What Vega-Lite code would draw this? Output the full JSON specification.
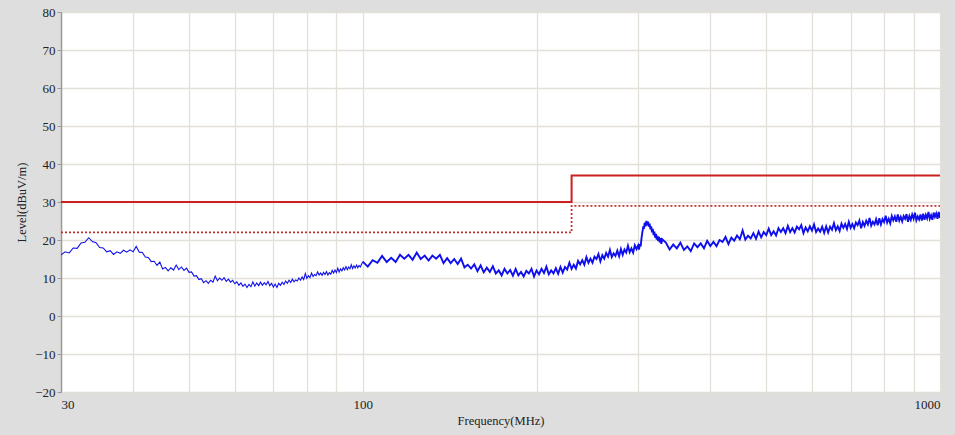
{
  "$schema": "https://vega.github.io/schema/vega-lite/v6.json",
  "autosize": {"type": "none"},
  "width": 879,
  "height": 380,
  "padding": {"left": 61, "top": 12, "right": 15, "bottom": 43},
  "background": "#dedede",
  "config": {
    "view": {"fill": "#ffffff", "stroke": "#c4c4c4", "strokeWidth": 1},
    "axis": {
      "labelFont": "Liberation Serif", "titleFont": "Liberation Serif",
      "labelFontSize": 13, "titleFontSize": 12.5, "titleFontWeight": "normal",
      "labelColor": "#222222", "titleColor": "#222222",
      "gridColor": "#e2e0d8", "gridWidth": 1.3,
      "domainColor": "#9a9a9a", "tickColor": "#9a9a9a"
    }
  },
  "datasets": {
    "limits": [
      {"f": 30, "v": 30, "i": 0, "kind": "limit"},
      {"f": 230, "v": 30, "i": 1, "kind": "limit"},
      {"f": 230, "v": 37, "i": 2, "kind": "limit"},
      {"f": 1000, "v": 37, "i": 3, "kind": "limit"},
      {"f": 30, "v": 22, "i": 0, "kind": "margin"},
      {"f": 230, "v": 22, "i": 1, "kind": "margin"},
      {"f": 230, "v": 29, "i": 2, "kind": "margin"},
      {"f": 1000, "v": 29, "i": 3, "kind": "margin"}
    ],
    "trace": [
      {"f":30,"v":16.1},{"f":30.5,"v":16.9},{"f":31,"v":16.6},{"f":31.5,"v":17.9},{"f":32,"v":17.8},{"f":32.5,"v":19.2},{"f":33,"v":19.4},{"f":33.5,"v":20.6},{"f":34,"v":19.6},{"f":34.5,"v":19.3},
      {"f":35,"v":18.0},{"f":35.5,"v":17.9},{"f":36,"v":16.9},{"f":36.5,"v":17.2},{"f":37,"v":16.2},{"f":37.5,"v":16.9},{"f":38,"v":16.5},{"f":38.5,"v":17.3},{"f":39,"v":16.8},{"f":39.5,"v":17.4},
      {"f":40,"v":16.9},{"f":40.5,"v":18.3},{"f":41,"v":16.8},{"f":41.5,"v":16.7},{"f":42,"v":15.5},{"f":42.5,"v":15.4},{"f":43,"v":14.3},{"f":43.5,"v":14.4},{"f":44,"v":13.3},{"f":44.5,"v":14.2},
      {"f":45,"v":12.4},{"f":45.5,"v":12.8},{"f":46,"v":11.9},{"f":46.5,"v":12.7},{"f":47,"v":12.1},{"f":47.5,"v":13.4},{"f":48,"v":12.2},{"f":48.5,"v":12.9},{"f":49,"v":12.0},{"f":49.5,"v":12.6},
      {"f":50,"v":11.5},{"f":50.5,"v":11.6},{"f":51,"v":10.5},{"f":51.5,"v":10.6},{"f":52,"v":9.6},{"f":52.5,"v":9.8},{"f":53,"v":8.8},{"f":53.5,"v":9.3},{"f":54,"v":8.6},{"f":54.5,"v":9.4},
      {"f":55,"v":8.9},{"f":55.5,"v":10.5},{"f":56,"v":9.3},{"f":56.5,"v":10.0},{"f":57,"v":9.4},{"f":57.5,"v":10.1},{"f":58,"v":9.1},{"f":58.5,"v":9.7},{"f":59,"v":8.9},{"f":59.5,"v":9.4},
      {"f":60,"v":8.5},{"f":60.5,"v":9.0},{"f":61,"v":8.1},{"f":61.5,"v":8.7},{"f":62,"v":7.8},{"f":62.5,"v":8.4},{"f":63,"v":7.5},{"f":63.5,"v":8.3},{"f":64,"v":7.7},{"f":64.5,"v":9.0},
      {"f":65,"v":7.9},{"f":65.5,"v":8.7},{"f":66,"v":8.0},{"f":66.5,"v":8.9},{"f":67,"v":8.1},{"f":67.5,"v":8.8},{"f":68,"v":8.2},{"f":68.5,"v":9.1},{"f":69,"v":8.0},{"f":69.5,"v":8.6},
      {"f":70,"v":7.6},{"f":70.5,"v":8.4},{"f":71,"v":7.5},{"f":71.5,"v":8.6},{"f":72,"v":8.1},{"f":72.5,"v":8.9},{"f":73,"v":8.3},{"f":73.5,"v":9.2},{"f":74,"v":8.6},{"f":74.5,"v":9.4},
      {"f":75,"v":8.8},{"f":75.5,"v":9.7},{"f":76,"v":9.0},{"f":76.5,"v":9.5},{"f":77,"v":9.2},{"f":77.5,"v":10.0},{"f":78,"v":9.4},{"f":78.5,"v":10.3},{"f":79,"v":9.6},{"f":79.5,"v":11.2},
      {"f":80,"v":9.9},{"f":80.5,"v":10.6},{"f":81,"v":10.1},{"f":81.5,"v":11.3},{"f":82,"v":10.4},{"f":82.5,"v":10.9},{"f":83,"v":10.6},{"f":83.5,"v":11.6},{"f":84,"v":10.8},{"f":84.5,"v":11.3},
      {"f":85,"v":10.7},{"f":85.5,"v":11.5},{"f":86,"v":10.9},{"f":86.5,"v":11.7},{"f":87,"v":10.8},{"f":87.5,"v":11.4},{"f":88,"v":11.0},{"f":88.5,"v":12.0},{"f":89,"v":11.3},{"f":89.5,"v":12.1},
      {"f":90,"v":11.4},{"f":90.5,"v":12.6},{"f":91,"v":11.6},{"f":91.5,"v":12.4},{"f":92,"v":11.9},{"f":92.5,"v":12.7},{"f":93,"v":12.1},{"f":93.5,"v":13.0},{"f":94,"v":12.2},{"f":94.5,"v":12.9},
      {"f":95,"v":12.4},{"f":95.5,"v":13.5},{"f":96,"v":12.5},{"f":96.5,"v":13.2},{"f":97,"v":12.6},{"f":97.5,"v":13.4},{"f":98,"v":12.7},{"f":98.5,"v":13.3},{"f":99,"v":12.9},{"f":99.5,"v":13.6},
      {"f":100,"v":14.3},{"f":102,"v":13.0},{"f":104,"v":14.7},{"f":106,"v":14.0},{"f":108,"v":15.8},{"f":110,"v":14.2},{"f":112,"v":15.3},{"f":114,"v":14.2},{"f":116,"v":16.1},{"f":118,"v":15.1},
      {"f":120,"v":16.1},{"f":122,"v":14.8},{"f":124,"v":16.7},{"f":126,"v":15.0},{"f":128,"v":15.9},{"f":130,"v":14.6},{"f":132,"v":15.9},{"f":134,"v":15.1},{"f":136,"v":16.1},{"f":138,"v":13.9},
      {"f":140,"v":15.2},{"f":142,"v":13.9},{"f":144,"v":15.0},{"f":146,"v":13.7},{"f":148,"v":15.1},{"f":150,"v":12.8},{"f":152,"v":13.5},{"f":154,"v":12.5},{"f":156,"v":13.6},{"f":158,"v":11.8},
      {"f":160,"v":13.3},{"f":162,"v":11.5},{"f":164,"v":12.7},{"f":166,"v":11.6},{"f":168,"v":13.1},{"f":170,"v":11.2},{"f":172,"v":12.0},{"f":174,"v":10.7},{"f":176,"v":12.4},{"f":178,"v":11.2},
      {"f":180,"v":12.1},{"f":182,"v":10.6},{"f":184,"v":12.4},{"f":186,"v":10.7},{"f":188,"v":11.6},{"f":190,"v":10.4},{"f":192,"v":11.9},{"f":194,"v":11.2},{"f":196,"v":12.4},{"f":198,"v":10.4},
      {"f":200,"v":12.0},{"f":202,"v":11.0},{"f":204,"v":12.4},{"f":206,"v":11.3},{"f":208,"v":13.0},{"f":210,"v":11.0},{"f":212,"v":12.0},{"f":214,"v":11.2},{"f":216,"v":12.6},{"f":218,"v":11.1},
      {"f":220,"v":12.9},{"f":222,"v":11.4},{"f":224,"v":12.9},{"f":226,"v":12.2},{"f":228,"v":14.0},{"f":230,"v":12.4},{"f":232,"v":13.5},{"f":234,"v":12.5},{"f":236,"v":14.5},{"f":238,"v":13.6},
      {"f":240,"v":14.7},{"f":242,"v":13.5},{"f":244,"v":15.5},{"f":246,"v":14.0},{"f":248,"v":15.1},{"f":250,"v":14.0},{"f":252,"v":15.6},{"f":254,"v":15.0},{"f":256,"v":16.3},{"f":258,"v":14.4},
      {"f":260,"v":16.0},{"f":262,"v":15.1},{"f":264,"v":16.6},{"f":266,"v":15.6},{"f":268,"v":17.4},{"f":270,"v":15.5},{"f":272,"v":16.5},{"f":274,"v":15.8},{"f":276,"v":17.2},{"f":278,"v":15.7},
      {"f":280,"v":17.6},{"f":282,"v":16.1},{"f":284,"v":17.5},{"f":286,"v":16.7},{"f":288,"v":18.5},{"f":290,"v":16.8},{"f":292,"v":17.8},{"f":294,"v":16.7},{"f":296,"v":18.6},{"f":298,"v":17.6},
      {"f":300,"v":18.6},{"f":301,"v":17.5},{"f":302,"v":18.9},{"f":303,"v":18.3},{"f":304,"v":20.5},{"f":305,"v":22.0},{"f":306,"v":23.3},{"f":307,"v":23.2},{"f":308,"v":24.6},{"f":309,"v":23.6},
      {"f":310,"v":25.0},{"f":311,"v":23.9},{"f":312,"v":24.8},{"f":313,"v":23.5},{"f":314,"v":24.3},{"f":315,"v":22.8},{"f":316,"v":23.6},{"f":317,"v":22.0},{"f":318,"v":22.9},{"f":319,"v":21.3},
      {"f":320,"v":22.2},{"f":321,"v":20.6},{"f":322,"v":21.6},{"f":323,"v":20.1},{"f":324,"v":21.1},{"f":325,"v":19.7},{"f":326,"v":20.8},{"f":327,"v":19.4},{"f":328,"v":20.5},{"f":329,"v":19.0},
      {"f":330,"v":20.2},{"f":335,"v":19.3},{"f":340,"v":17.5},{"f":345,"v":18.8},{"f":350,"v":17.8},{"f":355,"v":19.3},{"f":360,"v":17.4},{"f":365,"v":18.3},{"f":370,"v":17.1},{"f":375,"v":19.1},
      {"f":380,"v":18.1},{"f":385,"v":19.1},{"f":390,"v":17.8},{"f":395,"v":19.8},{"f":400,"v":18.4},{"f":405,"v":19.5},{"f":410,"v":18.4},{"f":415,"v":20.0},{"f":420,"v":19.5},{"f":425,"v":20.8},
      {"f":430,"v":18.9},{"f":435,"v":20.6},{"f":440,"v":19.8},{"f":445,"v":21.2},{"f":450,"v":20.2},{"f":455,"v":22.5},{"f":460,"v":20.1},{"f":465,"v":21.1},{"f":470,"v":20.4},{"f":475,"v":21.8},
      {"f":480,"v":20.3},{"f":485,"v":22.2},{"f":490,"v":20.7},{"f":495,"v":22.1},{"f":500,"v":21.3},{"f":505,"v":23.0},{"f":510,"v":21.3},{"f":515,"v":22.3},{"f":520,"v":21.2},{"f":525,"v":23.1},
      {"f":530,"v":22.1},{"f":535,"v":23.1},{"f":540,"v":21.8},{"f":545,"v":23.7},{"f":550,"v":22.1},{"f":555,"v":23.1},{"f":560,"v":22.0},{"f":565,"v":23.5},{"f":570,"v":22.8},{"f":575,"v":23.9},
      {"f":580,"v":21.8},{"f":585,"v":23.3},{"f":590,"v":22.3},{"f":595,"v":23.6},{"f":600,"v":22.5},{"f":605,"v":24.1},{"f":610,"v":22.1},{"f":615,"v":23.0},{"f":620,"v":22.2},{"f":625,"v":23.5},
      {"f":630,"v":21.9},{"f":635,"v":23.6},{"f":640,"v":22.0},{"f":645,"v":23.5},{"f":650,"v":22.7},{"f":655,"v":24.4},{"f":660,"v":22.6},{"f":665,"v":23.6},{"f":670,"v":22.4},{"f":675,"v":24.3},
      {"f":680,"v":23.2},{"f":685,"v":24.2},{"f":690,"v":22.9},{"f":695,"v":24.8},{"f":700,"v":23.2},{"f":705,"v":24.2},{"f":710,"v":23.1},{"f":715,"v":24.6},{"f":720,"v":23.9},{"f":725,"v":25.1},
      {"f":730,"v":23.1},{"f":735,"v":24.7},{"f":740,"v":23.7},{"f":745,"v":25.1},{"f":750,"v":24.1},{"f":755,"v":25.8},{"f":760,"v":23.8},{"f":765,"v":24.8},{"f":770,"v":24.1},{"f":775,"v":25.5},
      {"f":780,"v":23.9},{"f":785,"v":25.7},{"f":790,"v":24.1},{"f":795,"v":25.5},{"f":800,"v":24.7},{"f":805,"v":26.4},{"f":810,"v":24.6},{"f":815,"v":25.6},{"f":820,"v":24.4},{"f":825,"v":26.3},
      {"f":830,"v":25.2},{"f":835,"v":26.2},{"f":840,"v":24.8},{"f":845,"v":26.7},{"f":850,"v":25.1},{"f":855,"v":26.1},{"f":860,"v":24.9},{"f":865,"v":26.3},{"f":870,"v":25.6},{"f":875,"v":26.8},
      {"f":880,"v":24.8},{"f":885,"v":26.3},{"f":890,"v":25.3},{"f":895,"v":26.7},{"f":900,"v":25.6},{"f":905,"v":27.2},{"f":910,"v":25.2},{"f":915,"v":26.2},{"f":920,"v":25.4},{"f":925,"v":26.7},
      {"f":930,"v":25.1},{"f":935,"v":26.9},{"f":940,"v":25.3},{"f":945,"v":26.6},{"f":950,"v":25.7},{"f":955,"v":27.4},{"f":960,"v":25.6},{"f":965,"v":26.5},{"f":970,"v":25.3},{"f":975,"v":27.2},
      {"f":980,"v":26.1},{"f":985,"v":27.0},{"f":990,"v":25.6},{"f":995,"v":27.4},{"f":1000,"v":25.8}
    ]
  },
  "encoding": {
    "x": {
      "field": "f", "type": "quantitative",
      "scale": {"type": "log", "domain": [30, 1000], "nice": false},
      "axis": {
        "title": "Frequency(MHz)",
        "values": [30, 40, 50, 60, 70, 80, 90, 100, 200, 300, 400, 500, 600, 700, 800, 900, 1000],
        "labelExpr": "datum.value == 30 || datum.value == 100 || datum.value == 1000 ? datum.value : ''",
        "ticks": false, "labelPadding": 6, "titlePadding": 3, "domain": false
      }
    },
    "y": {
      "field": "v", "type": "quantitative",
      "scale": {"domain": [-20, 80], "nice": false},
      "axis": {
        "title": "Level(dBuV/m)",
        "values": [-20, -10, 0, 10, 20, 30, 40, 50, 60, 70, 80],
        "tickSize": 4, "labelPadding": 2, "titlePadding": 6, "domainWidth": 1.5
      }
    }
  },
  "layer": [
    {
      "data": {"name": "trace"},
      "transform": [{"filter": "datum.f <= 100"}],
      "mark": {"type": "line", "color": "#1010e8", "strokeWidth": 1.1, "clip": true}
    },
    {
      "data": {"name": "trace"},
      "transform": [{"filter": "datum.f >= 100"}],
      "mark": {"type": "line", "color": "#0f0fee", "strokeWidth": 1.9, "clip": true}
    },
    {
      "data": {"name": "limits"},
      "transform": [{"filter": "datum.kind == 'limit'"}],
      "mark": {"type": "line", "color": "#cc2020", "strokeWidth": 2},
      "encoding": {"order": {"field": "i", "type": "quantitative"}}
    },
    {
      "data": {"name": "limits"},
      "transform": [{"filter": "datum.kind == 'margin'"}],
      "mark": {"type": "line", "color": "#c03030", "strokeWidth": 1.8, "strokeDash": [2, 2]},
      "encoding": {"order": {"field": "i", "type": "quantitative"}}
    }
  ]
}
